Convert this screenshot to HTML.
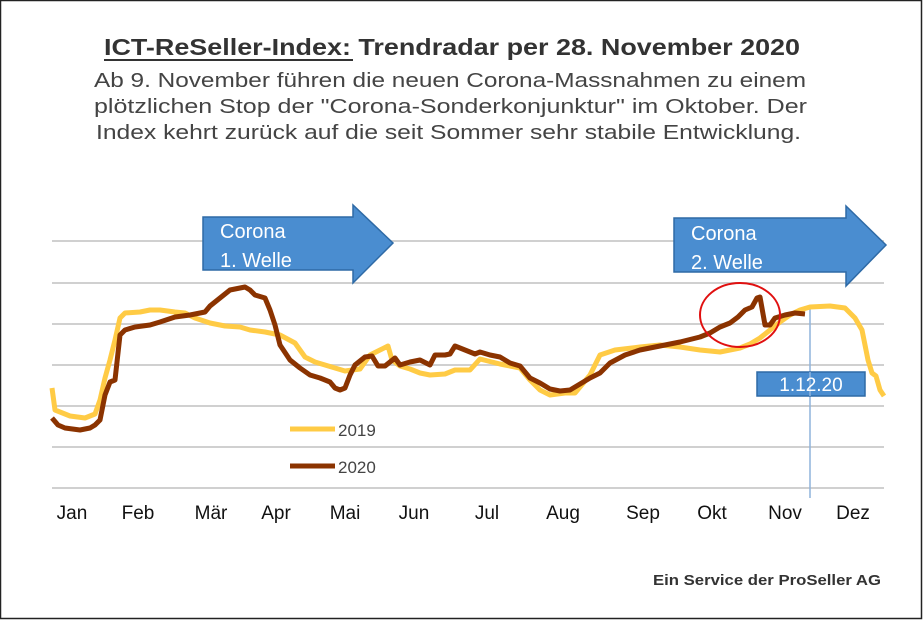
<!DOCTYPE html>
<html><head><meta charset="utf-8"><style>
html,body{margin:0;padding:0;background:#fff}
svg{display:block}
text{font-family:"Liberation Sans",sans-serif}
</style></head><body>
<svg width="923" height="620" viewBox="0 0 923 620" xmlns="http://www.w3.org/2000/svg">
<rect x="0.5" y="0.5" width="921" height="618" fill="#fff" stroke="#222" stroke-width="1.5"/>
<text x="104" y="55" font-size="23" font-weight="bold" fill="#333" textLength="696" lengthAdjust="spacingAndGlyphs">ICT-ReSeller-Index: Trendradar per 28. November 2020</text>
<line x1="104" y1="60" x2="353" y2="60" stroke="#333" stroke-width="2"/>
<g fill="#444" font-size="20">
<text x="94" y="87" textLength="712" lengthAdjust="spacingAndGlyphs">Ab 9. November führen die neuen Corona-Massnahmen zu einem</text>
<text x="94" y="113" textLength="713" lengthAdjust="spacingAndGlyphs">plötzlichen Stop der "Corona-Sonderkonjunktur"  im Oktober. Der</text>
<text x="96" y="139" textLength="705" lengthAdjust="spacingAndGlyphs">Index kehrt zurück auf die seit Sommer sehr stabile Entwicklung.</text>
</g>
<g stroke="#d0d0d0" stroke-width="2">
<line x1="52" y1="241" x2="884" y2="241"/><line x1="52" y1="283" x2="884" y2="283"/>
<line x1="52" y1="324" x2="884" y2="324"/><line x1="52" y1="365" x2="884" y2="365"/>
<line x1="52" y1="406" x2="884" y2="406"/><line x1="52" y1="447" x2="884" y2="447"/>
<line x1="52" y1="488" x2="884" y2="488"/>
</g>
<line x1="810" y1="306" x2="810" y2="498" stroke="#8fb4dc" stroke-width="1.5"/>
<polyline fill="none" stroke="#FFCB45" stroke-width="5" stroke-linejoin="round" points="52,388 55,410 60,412 70,416 85,418 95,414 100,400 105,378 110,360 115,340 120,318 125,313 140,312 150,310 160,310 175,312 185,313 195,318 210,323 225,326 240,327 250,330 265,332 280,335 295,343 305,357 315,362 325,365 335,368 345,371 360,369 370,355 380,350 388,346 392,360 400,366 410,369 420,373 430,375 445,374 455,370 470,370 480,359 500,364 510,366 520,368 530,380 540,390 550,395 565,393 575,393 590,375 600,355 615,350 640,347 660,345 680,347 700,350 720,352 730,350 740,348 750,344 760,338 770,330 780,322 790,315 800,310 810,307 830,306 845,308 855,318 862,330 868,360 872,373 876,376 880,390 884,396"/>
<polyline fill="none" stroke="#8B3300" stroke-width="5" stroke-linejoin="round" points="52,418 58,425 65,428 80,430 90,428 95,425 100,420 105,395 110,382 115,380 120,335 125,330 135,327 150,325 160,322 175,317 190,315 205,312 210,306 220,298 230,290 245,287 250,290 255,295 265,298 270,310 275,325 280,345 290,360 300,368 310,375 320,378 330,382 335,388 340,390 345,388 350,375 355,365 365,357 372,356 378,366 385,366 395,358 400,365 410,362 420,360 430,365 435,355 445,355 450,354 455,346 465,350 475,354 480,352 490,355 500,357 510,363 520,366 530,378 540,383 550,389 560,391 570,390 580,384 590,378 600,373 610,363 625,355 640,350 660,346 680,342 700,337 710,333 720,327 730,323 738,317 745,310 752,307 757,298 760,297 765,325 770,325 775,318 785,315 795,313 805,314"/>
<ellipse cx="740" cy="315" rx="40" ry="32" fill="none" stroke="#e01010" stroke-width="2"/>
<polygon points="203,217 353,217 353,205 393,243 353,283 353,270 203,270" fill="#4A8DD0" stroke="#2E6AA6" stroke-width="1.5"/>
<text x="220" y="238" font-size="20" fill="#fff">Corona</text>
<text x="220" y="267" font-size="20" fill="#fff">1. Welle</text>
<polygon points="674,218 846,218 846,206 886,245 846,286 846,272 674,272" fill="#4A8DD0" stroke="#2E6AA6" stroke-width="1.5"/>
<text x="691" y="240" font-size="20" fill="#fff">Corona</text>
<text x="691" y="269" font-size="20" fill="#fff">2. Welle</text>
<rect x="757" y="372" width="108" height="24" fill="#4A8DD0" stroke="#2E6AA6" stroke-width="1.5"/>
<line x1="810" y1="372" x2="810" y2="396" stroke="#8fb4dc" stroke-width="1.5"/>
<text x="811" y="391" font-size="19" fill="#fff" text-anchor="middle">1.12.20</text>
<line x1="290" y1="429" x2="335" y2="429" stroke="#FFCB45" stroke-width="5"/>
<text x="338" y="436" font-size="17" fill="#444">2019</text>
<line x1="290" y1="466" x2="335" y2="466" stroke="#8B3300" stroke-width="5"/>
<text x="338" y="473" font-size="17" fill="#444">2020</text>
<g font-size="19" fill="#111" text-anchor="middle">
<text x="72" y="519">Jan</text><text x="138" y="519">Feb</text><text x="211" y="519">Mär</text>
<text x="276" y="519">Apr</text><text x="345" y="519">Mai</text><text x="414" y="519">Jun</text>
<text x="487" y="519">Jul</text><text x="563" y="519">Aug</text><text x="643" y="519">Sep</text>
<text x="712" y="519">Okt</text><text x="785" y="519">Nov</text><text x="853" y="519">Dez</text>
</g>
<text x="653" y="585" font-size="15" font-weight="bold" fill="#333" textLength="228" lengthAdjust="spacingAndGlyphs">Ein Service der ProSeller AG</text>
</svg>
</body></html>
